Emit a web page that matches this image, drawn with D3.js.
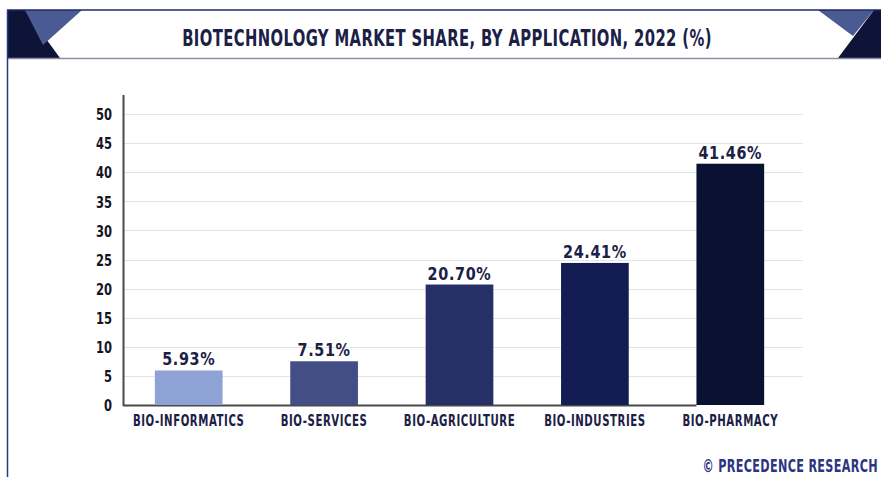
<!DOCTYPE html>
<html>
<head>
<meta charset="utf-8">
<script src="https://cdn.jsdelivr.net/npm/d3@7"></script>
<style>
  body { margin: 0; background: #fff; }
  svg { display: block; }
  text { font-family: "DejaVu Sans", sans-serif; font-weight: bold; }
</style>
</head>
<body>
<svg id="vis" width="881" height="477"></svg>
<script>
// chart data
var categories = ["BIO-INFORMATICS", "BIO-SERVICES", "BIO-AGRICULTURE", "BIO-INDUSTRIES", "BIO-PHARMACY"];
var shares = [5.93, 7.51, 20.70, 24.41, 41.46];
var barColors = ["#8fa2d5", "#434e87", "#262f68", "#131d54", "#0a1233"];
var yTicks = [0, 5, 10, 15, 20, 25, 30, 35, 40, 45, 50];

var title = "BIOTECHNOLOGY MARKET SHARE, BY APPLICATION, 2022 (%)";
var source = "\u00A9 PRECEDENCE RESEARCH";

var svg = d3.select("#vis");

function makePoly(canvas, pts, fill){
    return canvas.append("polygon")
              .attr("points", pts.map(function(p){ return p.join(","); }).join(" "))
              .style("fill", fill);
}

function makeRect(canvas, x, y, w, h, fill){
    return canvas.append("rect").attr("x", x).attr("y", y)
              .attr("width", w).attr("height", h).style("fill", fill);
}

// squeeze text horizontally to fake a condensed face
function condense(sel, s){
    sel.each(function(){
        var t = d3.select(this);
        var x0 = +t.attr("x") || 0;
        t.attr("x", x0 / s).attr("transform", "scale(" + s + ",1)");
    });
}

// header banner
makeRect(svg, 7, 10, 874, 48, "#ffffff");
makePoly(svg, [[7,10],[25,10],[60,58],[7,58]], "#0d1438");
makePoly(svg, [[25,10],[82,10],[43,45]], "#4a5a92");
makePoly(svg, [[818,10],[874,10],[853,36]], "#4a5a92");
makePoly(svg, [[874,10],[881,10],[881,58],[838,58]], "#0d1438");
svg.append("line").attr("x1", 7).attr("x2", 881).attr("y1", 10).attr("y2", 10)
   .style("stroke", "#1c2a6a").style("stroke-width", 1.5);
svg.append("line").attr("x1", 7).attr("x2", 881).attr("y1", 58.5).attr("y2", 58.5)
   .style("stroke", "#8d8ea3").style("stroke-width", 1.5);
svg.append("line").attr("x1", 7.5).attr("x2", 7.5).attr("y1", 10).attr("y2", 477)
   .style("stroke", "#2a3a7a").style("stroke-width", 1.5);

var titleText = svg.append("text")
   .attr("x", 447).attr("y", 46)
   .attr("text-anchor", "middle")
   .style("font-size", "23px").style("fill", "#1b2046").style("letter-spacing", "0.6px")
   .text(title);
condense(titleText, 530 / titleText.node().getComputedTextLength());

// scales
var x = d3.scaleBand().domain(categories).range([121, 798]).paddingInner(0.5).paddingOuter(0.25);
var y = d3.scaleLinear().domain([0, 50]).range([405, 114]);

// gridlines
svg.append("g").selectAll("line").data(yTicks.slice(1)).join("line")
   .attr("x1", 123).attr("x2", 803)
   .attr("y1", function(d){ return Math.round(y(d)) + 0.5; })
   .attr("y2", function(d){ return Math.round(y(d)) + 0.5; })
   .style("stroke", "#e4e4e4").style("stroke-width", 1.2);

// y axis
var yAxis = svg.append("g").attr("transform", "translate(123,0)")
   .call(d3.axisLeft(y).tickValues(yTicks).tickSize(0).tickPadding(11));
yAxis.select(".domain").remove();
yAxis.selectAll("text").style("font-size", "16px").style("fill", "#15151f")
   .attr("dy", "0.36em");
condense(yAxis.selectAll("text"), 0.72);
svg.append("line").attr("x1", 123.5).attr("x2", 123.5).attr("y1", 95).attr("y2", 406)
   .style("stroke", "#4a4a4a").style("stroke-width", 2);

// x axis
svg.append("line").attr("x1", 123).attr("x2", x(categories[4]))
   .attr("y1", 405.5).attr("y2", 405.5)
   .style("stroke", "#4a4a4a").style("stroke-width", 2);
var xAxis = svg.append("g").attr("transform", "translate(0,406)")
   .call(d3.axisBottom(x).tickSize(0).tickPadding(9));
xAxis.select(".domain").remove();
xAxis.selectAll("text").style("font-size", "15px").style("fill", "#1b2046")
   .attr("dy", "0.71em").style("letter-spacing", "0.8px");
condense(xAxis.selectAll("text"), 0.68);

// bars
svg.append("g").selectAll("rect").data(shares).join("rect")
   .attr("x", function(d, i){ return x(categories[i]); })
   .attr("width", x.bandwidth())
   .attr("y", function(d){ return y(d); })
   .attr("height", function(d){ return y(0) - y(d); })
   .style("fill", function(d, i){ return barColors[i]; });

// value labels
var vals = svg.append("g").selectAll("text").data(shares).join("text")
   .attr("x", function(d, i){ return x(categories[i]) + x.bandwidth() / 2; })
   .attr("y", function(d){ return y(d) - 5; })
   .attr("text-anchor", "middle")
   .style("font-size", "18px").style("fill", "#1b2046").style("letter-spacing", "0.8px")
   .text(function(d){ return d.toFixed(2) + "%"; });
condense(vals, 0.8);

// source
var src = svg.append("text")
   .attr("x", 878).attr("y", 472)
   .attr("text-anchor", "end")
   .style("font-size", "17px").style("fill", "#2b3582").style("letter-spacing", "0.5px")
   .text(source);
condense(src, 0.66);
</script>
</body>
</html>
